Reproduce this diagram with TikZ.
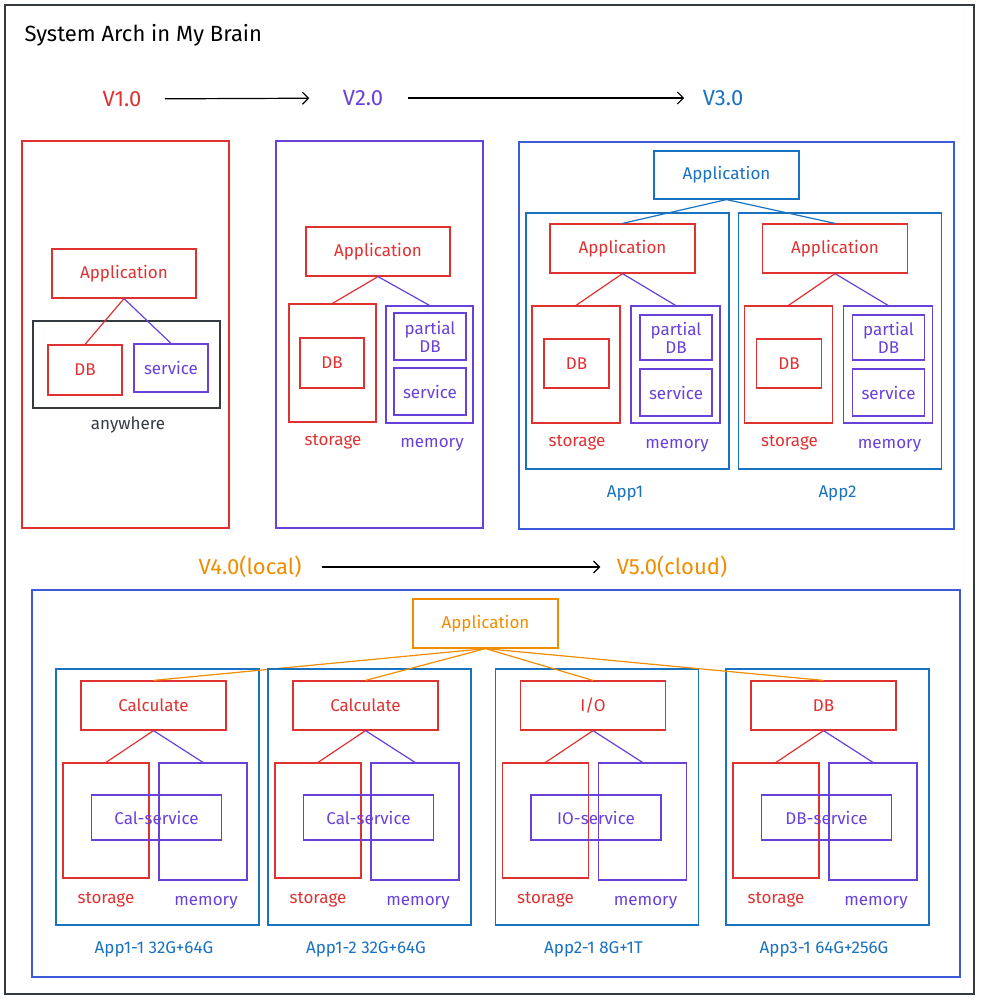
\documentclass[tikz,border=0pt]{standalone}
\usepackage{fontspec}
\setmainfont{Fira Sans}
\definecolor{exred}{HTML}{E03131}
\definecolor{exviolet}{HTML}{6741D9}
\definecolor{exblue}{HTML}{1971C2}
\definecolor{exindigo}{HTML}{3B5BDB}
\definecolor{exorange}{HTML}{F08C00}
\definecolor{exgray}{HTML}{343A40}
\usetikzlibrary{arrows.meta, positioning}

\begin{document}
\begin{tikzpicture}[
  x=1pt, y=-1pt,
  box/.style={draw=#1, text=#1, line width=1.2pt, inner sep=0pt, align=center, font=\fontsize{17}{18}\selectfont},
  lbl/.style={text=#1, font=\fontsize{17}{19}\selectfont},
  ver/.style={text=#1, font=\fontsize{22}{26}\selectfont},
  wire/.style={draw=#1, line width=1.2pt},
  arr/.style={draw=black, line width=1.2pt, -{Straight Barb[length=6pt, width=12pt]}},
]
  \useasboundingbox (0,0) rectangle (980,1000);
  \draw[exgray, line width=1.8pt] (5,5) rectangle (974,994);

  \node[anchor=west, font=\fontsize{22}{25}\selectfont] (title) at (21,35) {System Arch in My Brain};

  % versions
  \node[ver=exred] (v1) at (122,99) {V1.0};
  \node[ver=exviolet] (v2) at (363,98) {V2.0};
  \node[ver=exblue] (v3) at (723,98) {V3.0};
  \draw[arr, shorten <=20pt, shorten >=30pt] (v1) -- (v2);
  \draw[arr, shorten <=21pt, shorten >=15pt] (v2) -- (v3);

  % V1.0
  \node[box=exred, minimum width=207, minimum height=387] (panA) at (125.5,334.5) {};
  \node[box=exred, minimum width=144, minimum height=49] (appA) at (124,273.5) {Application};
  \node[box=exgray, minimum width=187, minimum height=87] (anyA) at (126.5,364.5) {};
  \node[box=exred, minimum width=74, minimum height=50] (dbA) at (85,370) {DB};
  \node[box=exviolet, minimum width=74, minimum height=48] (svcA) at (171,368) {service};
  \node[lbl=exgray] (anyLbl) at (128,425) {anywhere};
  \draw[wire=exred] (appA.south) -- (dbA.north);
  \draw[wire=exviolet] (appA.south) -- (svcA.north);

  % V2.0
  \node[box=exviolet, minimum width=207, minimum height=387] (panB) at (379.5,334.5) {};
  \node[box=exred, minimum width=144, minimum height=49] (appB) at (378,251.5) {Application};
  \node[box=exred, minimum width=87, minimum height=118] (stoB) at (332.5,363) {};
  \node[box=exred, minimum width=64, minimum height=50] (dbB) at (332,363) {DB};
  \node[box=exviolet, minimum width=87, minimum height=117] (memB) at (429.5,364.5) {};
  \node[box=exviolet, minimum width=72, minimum height=47] (pdbB) at (430,336.5) {partial\\DB};
  \node[box=exviolet, minimum width=72, minimum height=47] (svcB) at (430,391.5) {service};
  \node[lbl=exred] (stoLblB) at (333,442) {storage};
  \node[lbl=exviolet] (memLblB) at (432,445) {memory};
  \draw[wire=exred] (appB.south) -- (stoB.north);
  \draw[wire=exviolet] (appB.south) -- (memB.north);

  % V3.0
  \node[box=exindigo, minimum width=435, minimum height=387] (panC) at (736.5,335.5) {};
  \node[box=exblue, minimum width=145, minimum height=48] (topC) at (726.5,175) {Application};
  \foreach \i/\dx in {1/0, 2/212.5} {
    \node[box=exblue, minimum width=203, minimum height=256] (appBox\i) at (627.5+\dx,341) {};
    \node[box=exred, minimum width=145, minimum height=49] (app\i) at (622.5+\dx,248.5) {Application};
    \node[box=exred, minimum width=88, minimum height=117] (sto\i) at (576+\dx,364.5) {};
    \node[box=exred, minimum width=65, minimum height=49] (db\i) at (576.5+\dx,363.5) {DB};
    \node[box=exviolet, minimum width=89, minimum height=117] (mem\i) at (675.5+\dx,364.5) {};
    \node[box=exviolet, minimum width=72, minimum height=45] (pdb\i) at (676+\dx,337.5) {partial\\DB};
    \node[box=exviolet, minimum width=72, minimum height=47] (svc\i) at (676+\dx,392.5) {service};
    \node[lbl=exred] (stoLbl\i) at (577+\dx,443) {storage};
    \node[lbl=exviolet] (memLbl\i) at (677+\dx,446) {memory};
    \node[lbl=exblue] (appLbl\i) at (625+\dx,493) {App\i};
    \draw[wire=exblue] (topC.south) -- (app\i.north);
    \draw[wire=exred] (app\i.south) -- (sto\i.north);
    \draw[wire=exviolet] (app\i.south) -- (mem\i.north);
  }

  % V4.0 -> V5.0
  \node[ver=exorange] (v4) at (250,567) {V4.0(local)};
  \node[ver=exorange] (v5) at (672,567) {V5.0(cloud)};
  \draw[arr, shorten <=17pt, shorten >=13pt] (v4) -- (v5);

  \node[box=exindigo, minimum width=928, minimum height=387] (panD) at (496,783.5) {};
  \node[box=exorange, minimum width=145, minimum height=49] (appD) at (485.5,623.5) {Application};
  \foreach \i/\cx/\job/\svc/\name in {1/157.5/Calculate/Cal-service/App1-1 32G+64G,
      2/369.5/Calculate/Cal-service/App1-2 32G+64G,
      3/597/{I/O}/IO-service/App2-1 8G+1T,
      4/827.5/DB/DB-service/App3-1 64G+256G} {
    \node[box=exblue, minimum width=203, minimum height=256] (nodeBox\i) at (\cx,797) {};
    \node[box=exred, minimum width=145, minimum height=49] (job\i) at (\cx-4,705.5) {\job};
    \node[box=exred, minimum width=86, minimum height=115] (disk\i) at (\cx-51.5,820.5) {};
    \node[box=exviolet, minimum width=88, minimum height=117] (ram\i) at (\cx+45.5,821.5) {};
    \node[box=exviolet, minimum width=130, minimum height=45] (srv\i) at (\cx-1,817.5) {\svc};
    \node[lbl=exred] (diskLbl\i) at (\cx-51.5,900) {storage};
    \node[lbl=exviolet] (ramLbl\i) at (\cx+48.5,903) {memory};
    \node[lbl=exblue] (nodeLbl\i) at (\cx-3.5,949) {\name};
    \draw[wire=exorange] (appD.south) -- (job\i.north);
    \draw[wire=exred] (job\i.south) -- (disk\i.north);
    \draw[wire=exviolet] (job\i.south) -- (ram\i.north);
  }
\end{tikzpicture}
\end{document}
